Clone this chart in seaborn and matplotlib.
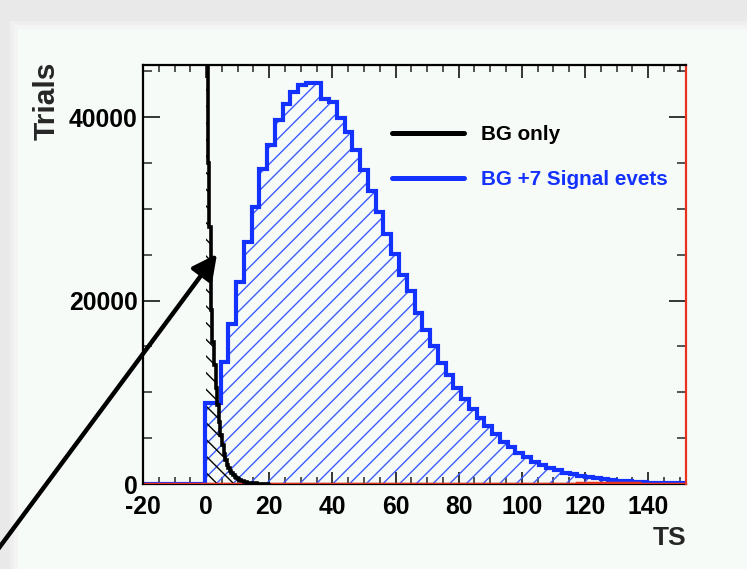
import numpy as np
import pandas as pd
import matplotlib
matplotlib.use("Agg")
import matplotlib.pyplot as plt
from matplotlib.lines import Line2D
from matplotlib.patches import Rectangle
from matplotlib.ticker import MultipleLocator, FixedLocator
import seaborn as sns

# ---- data -------------------------------------------------------------
# Signal hypothesis: 70 bins spanning the TS axis range
ts_lo, ts_hi, n_bins = -20.0, 152.0, 70
sig_counts = [
    0, 0, 0, 0, 0, 0, 0, 0,
    8800, 8800, 13300, 17500, 22000, 26400, 30200, 34400, 37000, 39700,
    41500, 42800, 43500, 43700, 43700, 42000, 41700, 39900, 38400, 36400,
    34200, 32000, 29700, 27300, 25100, 22800, 21000, 18700, 16800, 15000,
    13200, 11900, 10500, 9300, 8200, 7200, 6300, 5400, 4600, 4000,
    3400, 2900, 2400, 2050, 1750, 1500, 1250, 1050, 900, 750,
    620, 500, 420, 340, 280, 230, 190, 160, 130, 110,
    90, 75,
]
# Reference histogram on the same binning (almost empty)
ref_counts = [
    0, 0, 0, 0, 0, 0, 0, 0,
    0, 0, 0, 0, 0, 0, 0, 0, 0, 0,
    0, 0, 0, 0, 0, 0, 0, 0, 0, 0,
    0, 0, 0, 0, 0, 0, 0, 0, 0, 0,
    0, 0, 0, 0, 0, 0, 0, 0, 0, 0,
    0, 0, 0, 0, 0, 0, 0, 0, 120, 150,
    140, 120, 150, 130, 110, 90, 0, 0, 0, 0,
    0, 0,
]
# Background only: fine 0.5-wide bins from 0 to 20
bg_lo, bg_hi, bg_nbins = 0.0, 20.0, 40
bg_counts = [
    120000, 35000, 28000, 19000, 15500, 13000, 10500, 8600, 6800, 5300,
    4200, 3300, 2600, 2100, 1700, 1400, 1150, 950, 780, 640,
    520, 430, 350, 290, 240, 200, 160, 130, 110, 90,
    70, 55, 45, 35, 28, 22, 17, 13, 10, 8,
]

x_ticks = [-20, 0, 20, 40, 60, 80, 100, 120, 140]
y_ticks = [0, 20000, 40000]
legend_labels = ["BG only", "BG +7 Signal evets"]

# ---- style ------------------------------------------------------------
sns.set_theme(style="ticks")
plt.rcParams["font.family"] = ["Liberation Sans", "DejaVu Sans"]
plt.rcParams["hatch.linewidth"] = 1.0

BLUE = "#1432ff"
HATCH_BLUE = "#3c5cff"
RED = "#e8321e"
PANEL = "#f7fbf8"

W, H = 747, 569
fig = plt.figure(figsize=(W / 100, H / 100), dpi=100, facecolor="#e9e9e9")
# light panel with a soft shadow along top and left
for off, col in [(0, "#efefef"), (4, "#f3f4f3"), (8, PANEL)]:
    fig.add_artist(Rectangle(((10 + off) / W, 0), 1, (H - 21 - off) / H,
                             transform=fig.transFigure, facecolor=col,
                             edgecolor="none", zorder=-10))

ax = fig.add_axes([143 / W, (H - 484) / H, (686 - 143) / W, (484 - 65) / H])
ax.set_facecolor("none")

sig_edges = np.linspace(ts_lo, ts_hi, n_bins + 1)
sig_centers = 0.5 * (sig_edges[:-1] + sig_edges[1:])
bg_edges = np.linspace(bg_lo, bg_hi, bg_nbins + 1)
bg_centers = 0.5 * (bg_edges[:-1] + bg_edges[1:])

df_sig = pd.DataFrame({"TS": sig_centers, "Trials": sig_counts})
df_ref = pd.DataFrame({"TS": sig_centers, "Trials": ref_counts})
df_bg = pd.DataFrame({"TS": bg_centers, "Trials": bg_counts})


def hatched(df, edges, color, hatch, z):
    with plt.rc_context({"hatch.color": color}):
        sns.histplot(data=df, x="TS", weights="Trials", bins=list(edges),
                     element="step", fill=True, ax=ax)
    poly = ax.collections[-1]
    poly.set_facecolor("none")
    poly.set_edgecolor(color)
    poly.set_hatch(hatch)
    poly.set_linewidth(0)
    poly.set_zorder(z)


def outline(df, edges, color, lw, z):
    sns.histplot(data=df, x="TS", weights="Trials", bins=list(edges),
                 element="step", fill=False, color=color, linewidth=lw, ax=ax)
    ax.lines[-1].set_zorder(z)
    ax.lines[-1].set_solid_joinstyle("miter")


hatched(df_sig, sig_edges, HATCH_BLUE, "//", 1)
outline(df_sig, sig_edges, BLUE, 3.0, 3)
outline(df_ref, sig_edges, RED, 2.5, 4)
hatched(df_bg, bg_edges, "black", "\\\\", 2)
outline(df_bg, bg_edges, "black", 2.6, 5)

ax.set_xlim(ts_lo, ts_hi)
ax.set_ylim(0, 45700)
ax.set_xlabel("")
ax.set_ylabel("")

# axes frame and ticks
for side in ["left", "bottom", "top", "right"]:
    ax.spines[side].set_visible(True)
    ax.spines[side].set_linewidth(1.6)
    ax.spines[side].set_color("black")
    ax.spines[side].set_zorder(6)
ax.spines["bottom"].set_zorder(0.5)
ax.spines["right"].set_color(RED)

ax.xaxis.set_major_locator(FixedLocator(x_ticks))
ax.xaxis.set_minor_locator(MultipleLocator(5))
ax.yaxis.set_major_locator(FixedLocator(y_ticks))
ax.yaxis.set_minor_locator(MultipleLocator(5000))
ax.tick_params(axis="x", which="major", direction="in", length=9, width=1.1,
               top=True, bottom=True, pad=8, labelsize=17.8, colors="black")
ax.tick_params(axis="x", which="minor", direction="in", length=4.8, width=1.1,
               top=True, bottom=True)
ax.tick_params(axis="y", which="major", direction="in", length=12.5, width=1.1,
               left=True, right=True, pad=4, labelsize=17.8, colors="black")
ax.tick_params(axis="y", which="minor", direction="in", length=6.5, width=1.1,
               left=True, right=True)
ax.set_xticklabels([str(t) for t in x_ticks])
ax.set_yticklabels([str(t) for t in y_ticks])
for lab in ax.get_xticklabels() + ax.get_yticklabels():
    lab.set_fontweight("bold")

# axis titles placed at the axis ends
fig.text(686 / W, (H - 526) / H, "TS", ha="right", va="top",
         fontsize=19, fontweight="bold")
fig.text(47 / W, (H - 62) / H, "Trials", ha="center", va="top", rotation=90,
         fontsize=21.5, fontweight="bold")

# legend
handles = [Line2D([], [], color="black", lw=3.6),
           Line2D([], [], color=BLUE, lw=3.6)]
leg = ax.legend(handles, legend_labels, loc="upper left", frameon=False,
                bbox_to_anchor=(392 / W, (H - 125) / H),
                bbox_transform=fig.transFigure, borderpad=0, borderaxespad=0,
                handlelength=3.5, handletextpad=0.8, labelspacing=1.25,
                prop={"size": 14.9, "weight": "bold"})
leg.get_texts()[0].set_color("black")
leg.get_texts()[1].set_color(BLUE)

# pointer to the background-only peak
ax.annotate("", xy=(217, H - 254), xycoords="figure pixels",
            xytext=(-30, H - 587), textcoords="figure pixels",
            annotation_clip=False,
            arrowprops=dict(arrowstyle="-|>,head_length=0.75,head_width=0.38",
                            color="black", lw=3.2, mutation_scale=20,
                            shrinkA=0, shrinkB=0))

fig.savefig("out.png", dpi=100, facecolor=fig.get_facecolor())
